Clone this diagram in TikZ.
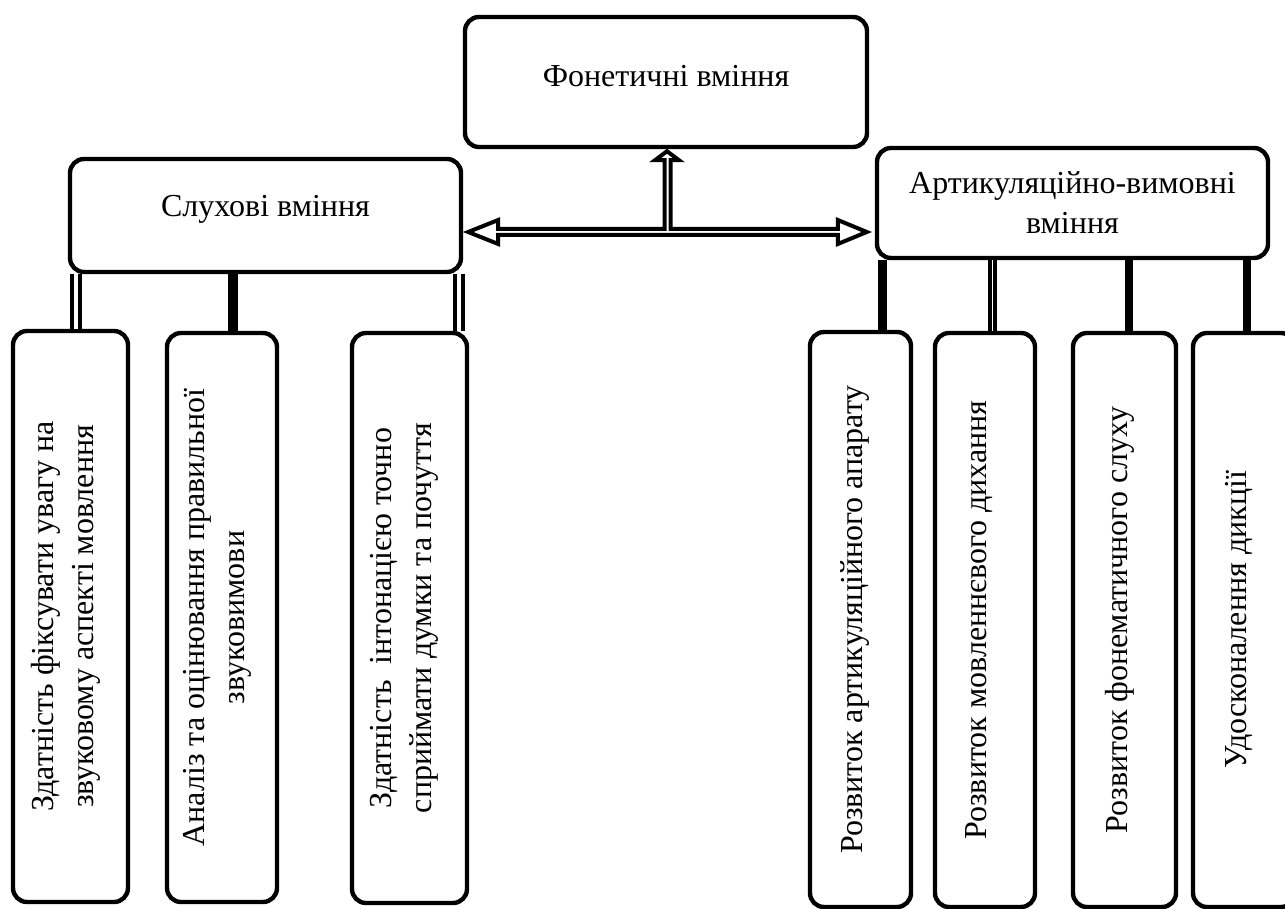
\documentclass[tikz,border=0pt]{standalone}
\usepackage{fontspec}
\setmainfont{Liberation Serif}
\usetikzlibrary{calc}
\begin{document}
\begin{tikzpicture}[x=0.5pt,y=-0.5pt,
  box/.style={draw, line width=2.2pt, rounded corners=7pt, fill=white, inner sep=0pt,
    align=center, font=\fontsize{16}{20}\selectfont},
  vbox/.style={box, rotate=90, text depth=8.5pt},
  dconn/.style={draw, line width=1.8pt, double=white, double distance=2pt},
  dthin/.style={draw, line width=1.7pt, double=white, double distance=0.8pt},
  sconn/.style={draw, line width=#1},
  hollow/.style={draw, line width=2pt, fill=white, line join=miter}
]
\useasboundingbox (0,0) rectangle (1285,909);

% main boxes
\node[box, minimum width=201pt, minimum height=65pt, text depth=6.4pt] (top) at (666,82) {Фонетичні вміння};
\node[box, minimum width=195.5pt, minimum height=56.5pt, text depth=9.9pt] (lbox) at (265.5,215.5) {Слухові вміння};
\node[box, minimum width=195.5pt, minimum height=55pt] (rbox) at (1072.5,203) {Артикуляційно-вимовні\\вміння};

% vertical boxes
\node[vbox, minimum width=285.5pt, minimum height=57.5pt] (b1) at (70.5,616.5) {Здатність фіксувати увагу на\\звуковому аспекті мовлення};
\node[vbox, minimum width=284.5pt, minimum height=55pt] (b2) at (222,617.5) {Аналіз та оцінювання правильної\\звуковимови};
\node[vbox, minimum width=285pt, minimum height=57.5pt] (b3) at (409.5,618) {Здатність\ \ інтонацією точно\\сприймати думки та почуття};
\node[vbox, minimum width=287.5pt, minimum height=50.5pt] (b4) at (860.5,619.5) {Розвиток артикуляційного апарату};
\node[vbox, minimum width=287pt, minimum height=50pt] (b5) at (985,620) {Розвиток мовленнєвого дихання};
\node[vbox, minimum width=287pt, minimum height=51.5pt] (b6) at (1124.5,620) {Розвиток фонематичного слуху};
\node[vbox, minimum width=287pt, minimum height=51pt] (b7) at (1244,620) {Удосконалення дикції};

% connector x positions
\coordinate (x1) at (76,0);
\coordinate (x2) at (233,0);
\coordinate (x3) at (459,0);
\coordinate (x4) at (882.5,0);
\coordinate (x5) at (992.5,0);
\coordinate (x6) at (1129,0);
\coordinate (x7) at (1247,0);

\draw[dconn] (lbox.south -| x1) -- (b1.east -| x1);
\draw[sconn=5pt] (lbox.south -| x2) -- (b2.east -| x2);
\draw[dconn] (lbox.south -| x3) -- (b3.east -| x3);
\draw[sconn=4.5pt] (rbox.south -| x4) -- (b4.east -| x4);
\draw[dthin] (rbox.south -| x5) -- (b5.east -| x5);
\draw[sconn=4.2pt] (rbox.south -| x6) -- (b6.east -| x6);
\draw[sconn=4.2pt] (rbox.south -| x7) -- (b7.east -| x7);

% hollow T-shaped double arrow
\coordinate (j) at (667.5,232);
\coordinate (L) at ($(lbox.east |- j)+(5,0)$);
\coordinate (R) at ($(rbox.west |- j)+(-8,0)$);
\coordinate (T) at ($(top.south)+(1,2)$);
\draw[hollow] (L) -- ($(L)+(30,-12)$) -- ($(L)+(30,-3)$) -- ($(j)+(-3,-3)$)
  -- ($(T)+(-2.5,9)$) -- ($(T)+(-12,9)$) -- (T) -- ($(T)+(12,9)$) -- ($(T)+(3.5,9)$)
  -- ($(j)+(3,-3)$) -- ($(R)+(-29,-3)$) -- ($(R)+(-29,-12)$) -- (R)
  -- ($(R)+(-29,12)$) -- ($(R)+(-29,3)$) -- ($(L)+(30,3)$) -- ($(L)+(30,12)$) -- cycle;
\end{tikzpicture}
\end{document}
